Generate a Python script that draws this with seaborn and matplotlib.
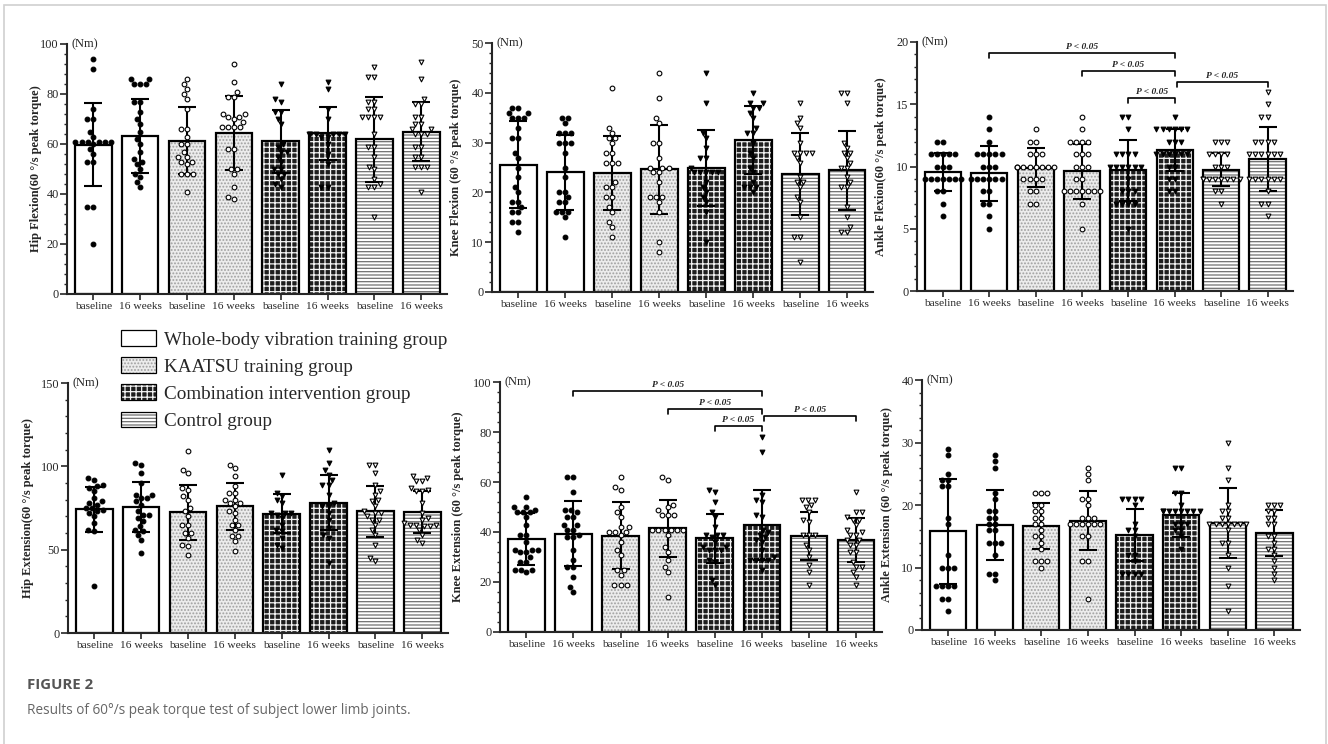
import pandas as pd
import matplotlib.pyplot as plt
import seaborn as sns
from matplotlib.patches import Patch, Rectangle
from matplotlib.ticker import MultipleLocator, AutoMinorLocator

# ---- data ----
groups = ["Whole-body vibration training group", "KAATSU training group",
          "Combination intervention group", "Control group"]
timepoints = ["baseline", "16 weeks"]
bar_keys = [f"{g}|{t}" for g in groups for t in timepoints]
bar_labels = timepoints * 4

hip_flex_mean = [59.8, 63.4, 61.3, 64.5, 61.1, 64.3, 62.0, 65.0]
hip_flex_sd = [16.5, 14.8, 13.4, 14.8, 12.5, 10.7, 17.0, 11.7]
hip_flex_pts = [
    [94, 90, 74, 70, 70, 65, 63, 61, 61, 61, 61, 61, 61, 60, 58, 56, 53, 53, 35, 35, 20],
    [86, 86, 84, 84, 84, 77, 77, 73, 70, 68, 65, 62, 60, 57, 54, 53, 52, 50, 48, 47, 45, 43],
    [86, 84, 82, 80, 78, 74, 66, 66, 63, 60, 60, 57, 55, 55, 53, 53, 52, 48, 48, 48, 41],
    [92, 85, 81, 79, 79, 72, 72, 71, 71, 70, 69, 67, 67, 67, 67, 58, 58, 50, 50, 48, 43, 39, 38],
    [84, 78, 77, 73, 73, 70, 68, 60, 59, 57, 57, 55, 53, 50, 50, 48, 48, 46, 44, 43],
    [85, 82, 74, 70, 64, 64, 64, 64, 64, 64, 63, 63, 60, 56, 52, 43, 43],
    [91, 87, 87, 77, 77, 74, 74, 71, 71, 71, 71, 64, 59, 59, 55, 51, 50, 46, 44, 43, 43, 31],
    [93, 86, 78, 76, 76, 71, 71, 68, 68, 66, 66, 64, 64, 64, 59, 59, 55, 55, 51, 51, 51, 41],
]

knee_flex_mean = [25.6, 24.0, 23.9, 24.6, 24.9, 30.5, 23.7, 24.4]
knee_flex_sd = [8.7, 7.6, 7.5, 9.0, 7.6, 6.8, 8.2, 7.9]
knee_flex_pts = [
    [37, 37, 36, 36, 35, 35, 35, 33, 31, 31, 28, 27, 25, 23, 21, 20, 18, 18, 17, 16, 16, 14, 14, 12],
    [35, 35, 34, 32, 32, 32, 30, 30, 30, 28, 25, 23, 20, 20, 19, 18, 18, 16, 16, 16, 15, 11],
    [41, 33, 32, 31, 31, 30, 28, 28, 26, 26, 26, 22, 21, 21, 19, 19, 17, 16, 14, 13, 11],
    [44, 39, 35, 34, 30, 30, 27, 25, 25, 25, 24, 24, 22, 19, 19, 19, 18, 16, 10, 8],
    [44, 38, 32, 31, 29, 27, 27, 25, 24, 24, 24, 24, 24, 22, 21, 20, 19, 18, 16, 10],
    [40, 38, 38, 37, 37, 36, 35, 33, 32, 32, 30, 28, 27, 25, 24, 22, 21, 21, 21, 20],
    [38, 35, 34, 33, 30, 28, 28, 28, 28, 27, 26, 23, 22, 22, 21, 19, 18, 15, 11, 11, 6],
    [40, 40, 38, 30, 29, 28, 28, 27, 26, 25, 25, 23, 22, 21, 21, 17, 15, 13, 12, 12],
]

ankle_flex_mean = [9.55, 9.45, 9.9, 9.6, 9.7, 11.3, 9.75, 10.6]
ankle_flex_sd = [1.55, 2.2, 1.55, 2.2, 2.45, 1.7, 1.35, 2.6]
ankle_flex_pts = [
    [12, 12, 11, 11, 11, 11, 11, 10, 10, 10, 9, 9, 9, 9, 9, 9, 9, 8, 8, 7, 6],
    [14, 13, 12, 11, 11, 11, 11, 11, 10, 10, 10, 9, 9, 9, 9, 9, 9, 8, 8, 7, 7, 6, 5],
    [13, 12, 12, 11, 11, 11, 10, 10, 10, 10, 10, 10, 10, 10, 9, 9, 9, 9, 8, 8, 7, 7],
    [14, 13, 12, 12, 12, 12, 11, 11, 11, 10, 10, 10, 9, 9, 8, 8, 8, 8, 8, 8, 8, 7, 5],
    [14, 14, 13, 11, 11, 11, 11, 10, 10, 10, 10, 10, 10, 9, 8, 8, 8, 7, 7, 7, 7, 5],
    [14, 13, 13, 13, 13, 13, 13, 12, 12, 12, 11, 11, 11, 11, 11, 11, 10, 10, 9, 9, 8, 8],
    [12, 12, 12, 11, 11, 11, 11, 10, 10, 10, 9, 9, 9, 9, 9, 9, 9, 9, 8, 8, 7],
    [16, 15, 14, 14, 12, 12, 12, 12, 11, 11, 11, 11, 11, 11, 9, 9, 9, 9, 9, 9, 8, 7, 7, 6],
]

hip_ext_mean = [74.2, 75.6, 72.5, 76.0, 71.6, 78.2, 73.0, 72.5]
hip_ext_sd = [13.7, 15.0, 16.5, 14.3, 11.7, 16.6, 15.4, 12.5]
hip_ext_pts = [
    [93, 92, 89, 88, 87, 85, 81, 79, 78, 77, 75, 75, 74, 73, 72, 70, 66, 62, 61, 28],
    [102, 101, 96, 90, 83, 83, 81, 81, 79, 77, 73, 71, 71, 69, 67, 64, 62, 61, 59, 56, 48],
    [109, 98, 96, 87, 86, 82, 80, 75, 73, 70, 65, 65, 60, 60, 57, 53, 52, 47],
    [101, 99, 94, 88, 84, 84, 80, 80, 78, 78, 76, 73, 72, 68, 65, 65, 62, 58, 58, 55, 49],
    [95, 84, 82, 80, 78, 72, 72, 72, 71, 69, 65, 62, 61, 57, 53, 51],
    [110, 102, 98, 95, 92, 89, 89, 83, 78, 76, 76, 72, 68, 63, 59, 57, 42],
    [101, 101, 96, 89, 85, 83, 80, 79, 76, 73, 72, 72, 70, 68, 68, 65, 62, 59, 53, 45, 43],
    [94, 93, 91, 91, 87, 86, 85, 85, 78, 72, 69, 68, 66, 65, 65, 65, 64, 64, 62, 59, 56, 54],
]

knee_ext_mean = [37.2, 39.4, 38.5, 41.5, 37.6, 42.9, 38.4, 36.9]
knee_ext_sd = [10.4, 12.9, 13.4, 11.3, 9.8, 14.0, 9.6, 8.7]
knee_ext_pts = [
    [54, 50, 50, 49, 48, 48, 48, 46, 43, 39, 39, 36, 33, 33, 33, 32, 32, 30, 28, 28, 25, 25, 25, 24],
    [62, 62, 56, 49, 49, 48, 46, 46, 43, 43, 41, 41, 39, 38, 38, 33, 29, 26, 26, 22, 18, 16],
    [62, 58, 57, 50, 48, 46, 42, 42, 40, 40, 40, 39, 36, 33, 31, 25, 25, 23, 19, 19, 19],
    [62, 61, 51, 50, 49, 47, 47, 47, 41, 41, 41, 41, 41, 41, 39, 34, 32, 29, 26, 24, 14],
    [57, 56, 52, 48, 46, 42, 39, 39, 39, 38, 36, 34, 34, 33, 33, 33, 29, 28, 21, 19],
    [78, 72, 55, 53, 52, 47, 46, 41, 40, 39, 38, 37, 36, 33, 30, 29, 29, 29, 29, 25],
    [53, 53, 53, 51, 50, 48, 45, 44, 39, 39, 39, 35, 33, 30, 27, 24, 19],
    [56, 48, 48, 46, 45, 45, 43, 41, 40, 39, 39, 37, 37, 35, 35, 32, 32, 28, 26, 26, 24, 22, 19],
]

ankle_ext_mean = [15.8, 16.8, 16.6, 17.5, 15.25, 18.4, 17.1, 15.5]
ankle_ext_sd = [8.4, 5.6, 3.7, 4.7, 4.15, 3.5, 5.6, 3.7]
ankle_ext_pts = [
    [29, 28, 25, 24, 24, 23, 23, 18, 17, 12, 10, 10, 10, 7, 7, 7, 7, 5, 5, 3],
    [28, 27, 26, 22, 21, 19, 19, 18, 18, 17, 17, 16, 16, 14, 14, 14, 12, 9, 9, 8],
    [22, 22, 22, 20, 20, 19, 19, 18, 18, 17, 17, 16, 15, 15, 14, 13, 11, 11, 11, 10],
    [26, 25, 24, 21, 21, 20, 18, 18, 18, 17, 17, 17, 17, 17, 17, 15, 15, 11, 11, 5],
    [21, 21, 21, 21, 20, 17, 16, 16, 15, 12, 12, 11, 9, 9, 9, 9],
    [26, 26, 22, 22, 20, 19, 19, 19, 19, 19, 19, 19, 19, 17, 17, 17, 16, 16, 15, 13],
    [30, 26, 24, 20, 19, 19, 18, 18, 17, 17, 17, 17, 17, 17, 17, 16, 14, 14, 12, 10, 7, 3],
    [20, 20, 20, 19, 19, 18, 18, 17, 17, 15, 15, 14, 13, 13, 12, 11, 10, 9, 8],
]

# significance brackets: (from bar, to bar, height)
ankle_flex_sig = [(1, 5, 19.1), (3, 5, 17.65), (5.05, 7, 16.8), (4, 5, 15.5)]
knee_ext_sig = [(1, 5, 96.3), (3, 5, 89.3), (5.05, 7, 86.4), (4, 5, 82.4)]

# ---- style ----
grp_fill = ["white", "#ececec", "#1e1e1e", "white"]
grp_hatch = [None, ".....", "+++", "-----"]
grp_hatch_col = ["white", "#a0a0a0", "#f4f4f4", "#707070"]
grp_marker = ["o", "o", "v", "v"]
grp_mface = ["black", "white", "black", "white"]

sns.set_style("ticks")
plt.rcParams["font.family"] = "serif"
plt.rcParams["font.serif"] = ["Liberation Serif", "DejaVu Serif"]
plt.rcParams["hatch.linewidth"] = 0.9

fig = plt.figure(figsize=(13.28, 7.44), dpi=100)
W, H = 1328, 744


def add_axes(left, top, right, bottom):
    return fig.add_axes([left / W, 1 - bottom / H, (right - left) / W, (bottom - top) / H])


def draw_panel(ax, means, sds, pts, ymax, ystep, ylabel, lab_x, sig=()):
    bars = pd.DataFrame({"bar": bar_keys, "mean": means})
    pal = [grp_fill[i // 2] for i in range(8)]
    sns.barplot(data=bars, x="bar", y="mean", hue="bar", palette=pal, legend=False,
                errorbar=None, width=0.78, ax=ax, zorder=1)
    for i, patch in enumerate(ax.patches):
        patch.set_hatch(grp_hatch[i // 2])
        patch.set_edgecolor(grp_hatch_col[i // 2])
        patch.set_linewidth(0)
    sns.barplot(data=bars, x="bar", y="mean", fill=False, color="black", errorbar=None,
                linewidth=1.6, width=0.78, ax=ax, zorder=2)
    ax.errorbar(range(8), means, yerr=sds, fmt="none", ecolor="black", elinewidth=1.5,
                capsize=6.5, capthick=1.5, zorder=3)

    rows = []
    for i, (k, vals) in enumerate(zip(bar_keys, pts)):
        for v in vals:
            rows.append({"bar": k, "grp": i // 2, "value": v})
    pdf = pd.DataFrame(rows)
    for g in range(4):
        sns.swarmplot(data=pdf[pdf["grp"] == g], x="bar", y="value", order=bar_keys,
                      marker=grp_marker[g], color=grp_mface[g], edgecolor="black",
                      linewidth=0.8, size=3.4, ax=ax, zorder=4, warn_thresh=1)

    for x1, x2, y in sig:
        d = ymax * 0.02
        ax.plot([x1, x1, x2, x2], [y - d, y, y, y - d], color="black", lw=1.2,
                zorder=5, clip_on=False)
        ax.annotate("P < 0.05", ((x1 + x2) / 2, y), xytext=(0, 1.5), textcoords="offset points",
                    ha="center", va="bottom", fontsize=6.8, fontweight="bold",
                    fontstyle="italic", annotation_clip=False)

    ax.set_xlim(-0.56, 7.55)
    ax.set_ylim(0, ymax)
    ax.set_xticks(range(8), bar_labels)
    ax.yaxis.set_major_locator(MultipleLocator(ystep))
    ax.yaxis.set_minor_locator(AutoMinorLocator(5))
    ax.tick_params(axis="x", length=4, width=1.2, labelsize=8.2, pad=2)
    ax.tick_params(axis="y", which="major", length=5, width=1.2, labelsize=8.8, pad=1)
    ax.tick_params(axis="y", which="minor", length=2.5, width=1.0)
    for s in ["top", "right"]:
        ax.spines[s].set_visible(False)
    for s in ["left", "bottom"]:
        ax.spines[s].set_linewidth(1.5)
    ax.set_xlabel("")
    ax.set_ylabel(ylabel, fontsize=9, fontweight="bold")
    ax.yaxis.set_label_coords(lab_x, 0.5)
    ax.text(0.012, 1.0, "(Nm)", transform=ax.transAxes, fontsize=9, va="center", ha="left")


ax1 = add_axes(67, 44, 447, 294)
ax2 = add_axes(492, 43, 873, 292)
ax3 = add_axes(917, 42, 1293, 291)
ax4 = add_axes(68, 383, 448, 633)
ax5 = add_axes(500, 382, 882, 632)
ax6 = add_axes(922, 380, 1300, 630)

draw_panel(ax1, hip_flex_mean, hip_flex_sd, hip_flex_pts, 100, 20,
           "Hip Flexion(60 °/s peak torque)", -0.065)
draw_panel(ax2, knee_flex_mean, knee_flex_sd, knee_flex_pts, 50, 10,
           "Knee Flexion (60 °/s peak torque)", -0.078)
draw_panel(ax3, ankle_flex_mean, ankle_flex_sd, ankle_flex_pts, 20, 5,
           "Ankle Flexion(60 °/s peak torque)", -0.079, ankle_flex_sig)
draw_panel(ax4, hip_ext_mean, hip_ext_sd, hip_ext_pts, 150, 50,
           "Hip Extension(60 °/s peak torque)", -0.089)
draw_panel(ax5, knee_ext_mean, knee_ext_sd, knee_ext_pts, 100, 20,
           "Knee Extension (60 °/s peak torque)", -0.094, knee_ext_sig)
draw_panel(ax6, ankle_ext_mean, ankle_ext_sd, ankle_ext_pts, 40, 10,
           "Ankle Extension (60 °/s peak torque)", -0.076)

# legend
handles = []
for g in range(4):
    fill = Patch(facecolor=grp_fill[g], hatch=grp_hatch[g], edgecolor=grp_hatch_col[g], linewidth=0)
    edge = Patch(facecolor="none", edgecolor="black", linewidth=0.9)
    handles.append((fill, edge))
fig.legend(handles, groups, loc="upper left", bbox_to_anchor=(121 / W, 1 - 330 / H),
           frameon=False, borderpad=0, borderaxespad=0, handlelength=1.8, handleheight=0.9,
           handletextpad=0.45, labelspacing=0.45, prop={"family": "serif", "size": 13.8})

# caption and frame
fig.text(27 / W, 1 - 685 / H, "FIGURE 2", family="Open Sans", fontweight="bold",
         fontsize=10.8, color="#555555", va="center")
fig.text(27 / W, 1 - 710 / H, "Results of 60°/s peak torque test of subject lower limb joints.",
         family="Open Sans", fontsize=9.8, color="#666666", va="center")
fig.patches.append(Rectangle((4 / W, -0.05), (1326 - 4) / W, 1.05 - 5 / H, transform=fig.transFigure,
                             fill=False, edgecolor="#d0d0d0", linewidth=1.2))

fig.savefig("out.png", dpi=100)
